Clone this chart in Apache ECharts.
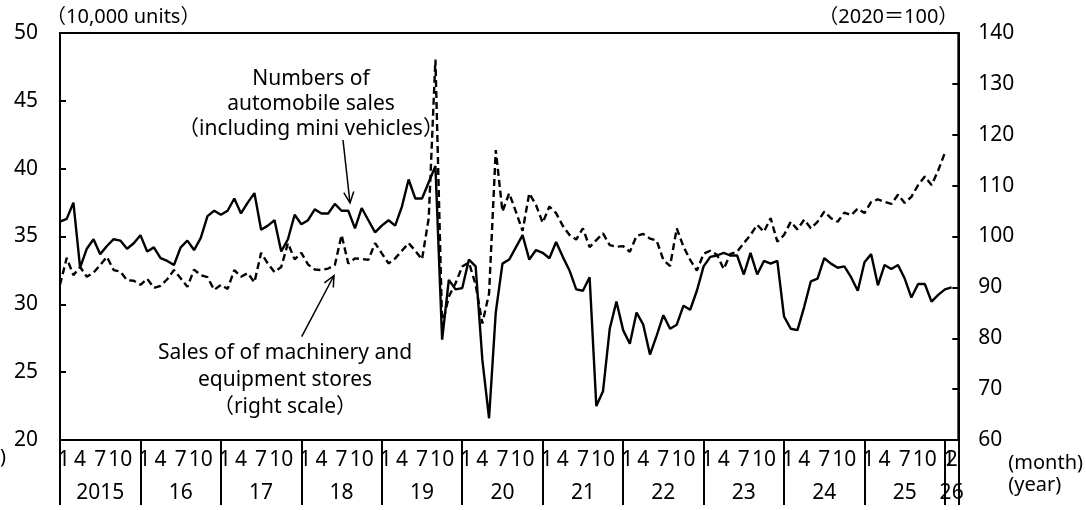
<!DOCTYPE html>
<html>
<head>
<meta charset="utf-8">
<script src="https://cdn.jsdelivr.net/npm/echarts@6/dist/echarts.min.js"></script>
<style>
html,body{margin:0;padding:0;background:#fff;}
#chart{width:1086px;height:510px;}
</style>
</head>
<body>
<div id="chart"></div>
<script>
// ---- data ----
const startYear = 2015;
const monthTickLabels = ['1', '4', '7', '10'];
const yearLabels = ['2015', '16', '17', '18', '19', '20', '21', '22', '23', '24', '25', '26'];
const lastMonthLabel = '2';

// Numbers of automobile sales (10,000 units), Jan 2015 - Feb 2026
const autoSales = [
  36.1, 36.3, 37.5, 32.7, 34.1, 34.8, 33.7, 34.3, 34.8, 34.7, 34.1, 34.5,
  35.1, 33.9, 34.2, 33.4, 33.2, 32.9, 34.2, 34.7, 34.0, 34.9, 36.5, 36.9,
  36.6, 36.9, 37.8, 36.7, 37.5, 38.2, 35.5, 35.8, 36.2, 33.9, 34.8, 36.6,
  35.9, 36.2, 37.0, 36.7, 36.7, 37.4, 36.9, 36.9, 35.6, 37.1, 36.2, 35.3,
  35.8, 36.2, 35.8, 37.2, 39.2, 37.8, 37.8, 39.0, 40.2, 27.4, 31.8, 31.1,
  31.2, 33.3, 32.8, 25.9, 21.6, 29.4, 33.0, 33.3, 34.2, 35.1, 33.3, 34.0,
  33.8, 33.4, 34.6, 33.5, 32.5, 31.1, 31.0, 32.0, 22.5, 23.6, 28.2, 30.2,
  28.1, 27.1, 29.4, 28.5, 26.3, 27.7, 29.2, 28.2, 28.5, 29.9, 29.6, 31.0,
  32.8, 33.5, 33.6, 33.8, 33.6, 33.6, 32.2, 33.8, 32.2, 33.2, 33.0, 33.2,
  29.1, 28.2, 28.1, 29.8, 31.7, 31.9, 33.4, 33.0, 32.7, 32.8, 32.0, 31.0,
  33.1, 33.7, 31.4, 32.9, 32.6, 32.9, 31.9, 30.5, 31.5, 31.5, 30.2, 30.7,
  31.1, 31.25
];

// Sales of machinery and equipment stores (2020=100), Jan 2015 - Jan 2026
const machinerySales = [
  90.5, 95.8, 92.4, 94.0, 92.1, 92.9, 94.4, 96.0, 93.4, 93.1, 91.4, 91.3,
  90.5, 91.7, 89.9, 90.3, 91.6, 93.4, 91.8, 90.1, 93.5, 92.4, 92.0, 89.5,
  90.5, 89.7, 93.4, 92.1, 92.8, 91.0, 96.8, 94.7, 93.0, 94.0, 98.7, 95.5,
  96.8, 94.5, 93.5, 93.4, 93.7, 94.4, 100.3, 94.7, 95.7, 95.6, 95.4, 98.7,
  96.7, 94.7, 95.7, 97.2, 98.7, 97.2, 95.5, 103.6, 134.8, 82.5, 88.2, 90.8,
  94.1, 94.9, 90.5, 82.9, 88.8, 117.0, 104.9, 108.5, 104.9, 101.1, 108.5, 106.2,
  102.7, 105.9, 104.6, 102.1, 100.3, 99.4, 101.6, 97.9, 99.3, 100.6, 98.3, 98.0,
  98.1, 97.0, 100.1, 100.5, 99.6, 99.2, 95.4, 94.2, 101.6, 98.0, 95.4, 93.3,
  96.6, 97.2, 96.4, 93.6, 96.6, 97.0, 98.7, 100.3, 102.3, 100.9, 103.6, 99.0,
  100.3, 102.9, 101.4, 103.3, 101.6, 102.9, 104.9, 103.6, 102.9, 104.7, 104.2, 105.5,
  104.6, 106.8, 107.3, 106.8, 106.4, 108.2, 106.6, 107.8, 110.1, 111.8, 110.1, 113.0,
  116.5
];

// categories: Jan 2015 .. Mar 2026 (axis extends one month past last data point)
const categories = [];
for (let i = 0; i < 135; i++) {
  const y = startYear + Math.floor(i / 12);
  const m = i % 12 + 1;
  categories.push(y + '-' + (m < 10 ? '0' + m : m));
}
const lastDataIndex = autoSales.length - 1;

const FONT = "'Noto Sans', 'Noto Sans CJK JP', sans-serif";
const FS = 21;
const FSN = 20;

function monthYearLabel(value, idx) {
  if (idx === lastDataIndex) return lastMonthLabel + '\n' + yearLabels[yearLabels.length - 1];
  if (idx > lastDataIndex) return '';
  const m = idx % 12 + 1;
  const yi = Math.floor(idx / 12);
  const s = String(m);
  if (monthTickLabels.indexOf(s) < 0) return '';
  if (m === 1) return '{first|' + s + '}';
  if (m === 7) return s + '\n' + yearLabels[yi];
  return s;
}

function arrow(x1, y1, x2, y2) {
  const dx = x2 - x1, dy = y2 - y1;
  const L = Math.sqrt(dx * dx + dy * dy);
  const ux = dx / L, uy = dy / L;
  const bx = x2 - 11 * ux, by = y2 - 11 * uy;
  const nx = -uy, ny = ux;
  const st = { stroke: '#000', lineWidth: 1.5, fill: null };
  return [
    { type: 'line', shape: { x1: x1, y1: y1, x2: x2, y2: y2 }, style: st, z: 100 },
    { type: 'polyline', shape: { points: [[bx + 5 * nx, by + 5 * ny], [x2, y2], [bx - 5 * nx, by - 5 * ny]] }, style: st, z: 100 }
  ];
}

const chart = echarts.init(document.getElementById('chart'), null, { renderer: 'canvas' });
const option = {
  animation: false,
  backgroundColor: '#fff',
  textStyle: { fontFamily: FONT, color: '#000' },
  grid: { left: 60, right: 123, top: 33, bottom: 70, show: true, borderColor: '#000', borderWidth: 2, backgroundColor: 'transparent' },
  xAxis: {
    type: 'category',
    data: categories,
    boundaryGap: false,
    axisLine: { show: true, lineStyle: { color: '#000', width: 2 } },
    axisTick: {
      show: true,
      length: 65,
      interval: function (idx) { return idx % 12 === 0 || idx === categories.length - 1; },
      lineStyle: { color: '#000', width: 2 }
    },
    axisLabel: {
      interval: 0,
      margin: 4,
      lineHeight: 33,
      fontSize: FS,
      fontFamily: FONT,
      color: '#000',
      formatter: monthYearLabel,
      rich: {
        first: { fontSize: FS, fontFamily: FONT, color: '#000', lineHeight: 33, padding: [0, 0, 0, 8] }
      }
    },
    splitLine: { show: false },
    name: '(month)\n(year)',
    nameLocation: 'end',
    nameGap: 20,
    nameTextStyle: { fontSize: FSN, fontFamily: FONT, color: '#000', align: 'left', verticalAlign: 'top', lineHeight: 22, padding: [12, 0, 0, 0] }
  },
  yAxis: [
    {
      type: 'value', min: 20, max: 50, interval: 5, position: 'left',
      axisLine: { show: true, lineStyle: { color: '#000', width: 2 } },
      axisTick: { show: true, inside: true, length: 6, lineStyle: { color: '#000', width: 2 } },
      axisLabel: { fontSize: FS, fontFamily: FONT, color: '#000', margin: 22 },
      splitLine: { show: false },
      name: '（10,000 units）', nameLocation: 'end', nameGap: 6,
      nameTextStyle: { fontSize: FSN, fontFamily: FONT, color: '#000', align: 'left', padding: [0, 0, 0, -14] }
    },
    {
      type: 'value', min: 60, max: 140, interval: 10, position: 'right',
      axisLine: { show: true, lineStyle: { color: '#000', width: 2 } },
      axisTick: { show: true, inside: true, length: 6, lineStyle: { color: '#000', width: 2 } },
      axisLabel: { fontSize: FS, fontFamily: FONT, color: '#000', margin: 20 },
      splitLine: { show: false },
      name: '（2020＝100）', nameLocation: 'end', nameGap: 6,
      nameTextStyle: { fontSize: FSN, fontFamily: FONT, color: '#000', align: 'right', padding: [0, 0, 0, 0] }
    }
  ],
  series: [
    {
      name: 'Sales of machinery and equipment stores', type: 'line', yAxisIndex: 1,
      data: machinerySales, symbol: 'none', showSymbol: false,
      lineStyle: { color: '#000', width: 2.4, type: [7, 4] }, z: 3
    },
    {
      name: 'Numbers of automobile sales', type: 'line', yAxisIndex: 0,
      data: autoSales, symbol: 'none', showSymbol: false,
      lineStyle: { color: '#000', width: 2.4 }, z: 4
    }
  ],
  graphic: [
    { type: 'text', x: 311, y: 104, z: 100, style: { text: 'Numbers of\nautomobile sales\n（including mini vehicles）', font: FS + 'px ' + FONT, fill: '#000', align: 'center', verticalAlign: 'middle', lineHeight: 25 } },
    { type: 'text', x: 285, y: 380, z: 100, style: { text: 'Sales of of machinery and\nequipment stores\n（right scale）', font: FS + 'px ' + FONT, fill: '#000', align: 'center', verticalAlign: 'middle', lineHeight: 27 } },
    { type: 'text', x: 0, y: 457, z: 100, style: { text: ')', font: FSN + 'px ' + FONT, fill: '#000', align: 'left', verticalAlign: 'middle' } }
  ].concat(arrow(343, 140, 350, 203)).concat(arrow(301.7, 336.7, 334, 275.5))
};
chart.setOption(option);
</script>
</body>
</html>
